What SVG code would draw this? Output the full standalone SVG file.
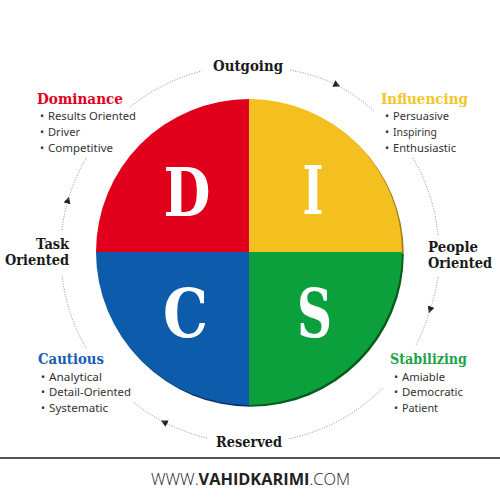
<svg xmlns="http://www.w3.org/2000/svg" width="500" height="500" viewBox="0 0 500 500">
<defs>
<style>
.head{font-family:"DejaVu Serif","Liberation Serif",serif;font-weight:bold;font-size:14.5px}
.lbl{font-family:"DejaVu Serif","Liberation Serif",serif;font-weight:bold;font-size:14px;fill:#1a1a1a}
.item{font-family:"Noto Sans","Liberation Sans",sans-serif;font-size:11px;fill:#333}
.big{font-family:"DejaVu Serif","Liberation Serif",serif;font-weight:bold;font-size:68px;fill:#fff;text-anchor:middle}
.dot{fill:none;stroke:#888;stroke-width:1;stroke-dasharray:1 1.6}
.foot{font-family:"Open Sans","Liberation Sans",sans-serif;font-size:16px;fill:#222}
</style>
<marker id="arr" viewBox="0 0 8 8" refX="4" refY="4" markerWidth="7" markerHeight="7" markerUnits="userSpaceOnUse" orient="auto">
<path d="M0,0 L8,4 L0,8 Z" fill="#222"/>
</marker>
</defs>
<rect width="500" height="500" fill="#fff"/>

<g id="connectors">
<path class="dot" d="M130,107 A189 189 0 0 1 202,71"/>
<path class="dot" d="M290,70 A189 189 0 0 1 337,85" marker-end="url(#arr)"/>
<path class="dot" d="M337,85 A189 189 0 0 1 375,112"/>
<path class="dot" d="M413,158 A189 189 0 0 1 438,235"/>
<path class="dot" d="M438,277 A189 189 0 0 1 430,310" marker-end="url(#arr)"/>
<path class="dot" d="M430,310 A189 189 0 0 1 416,345"/>
<path class="dot" d="M383,388 A189 189 0 0 1 288,439"/>
<path class="dot" d="M207,438 A189 189 0 0 1 164,422" marker-end="url(#arr)"/>
<path class="dot" d="M164,422 A189 189 0 0 1 133,402"/>
<path class="dot" d="M86,348 A189 189 0 0 1 62,275"/>
<path class="dot" d="M62,230 A189 189 0 0 1 68,200" marker-end="url(#arr)"/>
<path class="dot" d="M68,200 A189 189 0 0 1 87,157"/>
</g>

<g id="disc-circle">
<g transform="translate(1.8,1.8)">
<path d="M249,252 L96,252 A153 153 0 0 1 249,99 Z" fill="#8a0010"/>
<path d="M249,252 L249,99 A153 153 0 0 1 402,252 Z" fill="#a07c10"/>
<path d="M249,252 L402,252 A153 153 0 0 1 249,405 Z" fill="#0a5a1e"/>
<path d="M249,252 L249,405 A153 153 0 0 1 96,252 Z" fill="#0a2f6a"/>
</g>
</g>
<g id="node-D">
<path d="M249,252 L96,252 A153 153 0 0 1 249,99 Z" fill="#e1001b"/>
<text class="big" x="187" y="216" textLength="47" lengthAdjust="spacingAndGlyphs">D</text>
</g>
<g id="node-I">
<path d="M249,252 L249,99 A153 153 0 0 1 402,252 Z" fill="#f4c020"/>
<text class="big" x="313" y="214" textLength="21" lengthAdjust="spacingAndGlyphs">I</text>
</g>
<g id="node-S">
<path d="M249,252 L402,252 A153 153 0 0 1 249,405 Z" fill="#0ca03d"/>
<text class="big" x="314.5" y="337" textLength="35" lengthAdjust="spacingAndGlyphs">S</text>
</g>
<g id="node-C">
<path d="M249,252 L249,405 A153 153 0 0 1 96,252 Z" fill="#0d5bab"/>
<text class="big" x="185.5" y="337" textLength="45" lengthAdjust="spacingAndGlyphs">C</text>
</g>

<g id="label-outgoing"><text class="lbl" x="213" y="71" textLength="70" lengthAdjust="spacingAndGlyphs">Outgoing</text></g>
<g id="label-reserved"><text class="lbl" x="216" y="447" textLength="66" lengthAdjust="spacingAndGlyphs">Reserved</text></g>
<g id="label-task">
<text class="lbl" x="69" y="249" text-anchor="end" textLength="33" lengthAdjust="spacingAndGlyphs">Task</text>
<text class="lbl" x="69" y="265" text-anchor="end" textLength="64" lengthAdjust="spacingAndGlyphs">Oriented</text>
</g>
<g id="label-people">
<text class="lbl" x="428" y="252" textLength="50" lengthAdjust="spacingAndGlyphs">People</text>
<text class="lbl" x="428" y="268" textLength="64" lengthAdjust="spacingAndGlyphs">Oriented</text>
</g>

<g id="dominance">
<text class="head" x="37" y="104" fill="#e2001a" textLength="86" lengthAdjust="spacingAndGlyphs">Dominance</text>
<text class="item" x="40" y="120">•<tspan x="48" textLength="88" lengthAdjust="spacingAndGlyphs">Results Oriented</tspan></text>
<text class="item" x="40" y="136">•<tspan x="48" textLength="32" lengthAdjust="spacingAndGlyphs">Driver</tspan></text>
<text class="item" x="40" y="152">•<tspan x="48" textLength="65" lengthAdjust="spacingAndGlyphs">Competitive</tspan></text>
</g>
<g id="influencing">
<text class="head" x="381" y="104" fill="#f3c62a" textLength="87" lengthAdjust="spacingAndGlyphs">Influencing</text>
<text class="item" x="385" y="120">•<tspan x="393" textLength="56" lengthAdjust="spacingAndGlyphs">Persuasive</tspan></text>
<text class="item" x="385" y="136">•<tspan x="393" textLength="44" lengthAdjust="spacingAndGlyphs">Inspiring</tspan></text>
<text class="item" x="385" y="152">•<tspan x="393" textLength="63" lengthAdjust="spacingAndGlyphs">Enthusiastic</tspan></text>
</g>
<g id="cautious">
<text class="head" x="38" y="364" fill="#1b5db3" textLength="66" lengthAdjust="spacingAndGlyphs">Cautious</text>
<text class="item" x="41" y="381">•<tspan x="49" textLength="53" lengthAdjust="spacingAndGlyphs">Analytical</tspan></text>
<text class="item" x="41" y="396">•<tspan x="49" textLength="82" lengthAdjust="spacingAndGlyphs">Detail-Oriented</tspan></text>
<text class="item" x="41" y="412">•<tspan x="49" textLength="59" lengthAdjust="spacingAndGlyphs">Systematic</tspan></text>
</g>
<g id="stabilizing">
<text class="head" x="390" y="364" fill="#1ea34a" textLength="77" lengthAdjust="spacingAndGlyphs">Stabilizing</text>
<text class="item" x="394" y="381">•<tspan x="402" textLength="43" lengthAdjust="spacingAndGlyphs">Amiable</tspan></text>
<text class="item" x="394" y="396">•<tspan x="402" textLength="61" lengthAdjust="spacingAndGlyphs">Democratic</tspan></text>
<text class="item" x="394" y="412">•<tspan x="402" textLength="36" lengthAdjust="spacingAndGlyphs">Patient</tspan></text>
</g>

<line x1="0" y1="458" x2="500" y2="458" stroke="#1a1a1a" stroke-width="1.5"/>
<g id="footer">
<text class="foot" x="151" y="485" textLength="199" lengthAdjust="spacingAndGlyphs"><tspan font-weight="300">WWW.</tspan><tspan font-weight="700">VAHIDKARIMI</tspan><tspan font-weight="300">.COM</tspan></text>
</g>
</svg>
